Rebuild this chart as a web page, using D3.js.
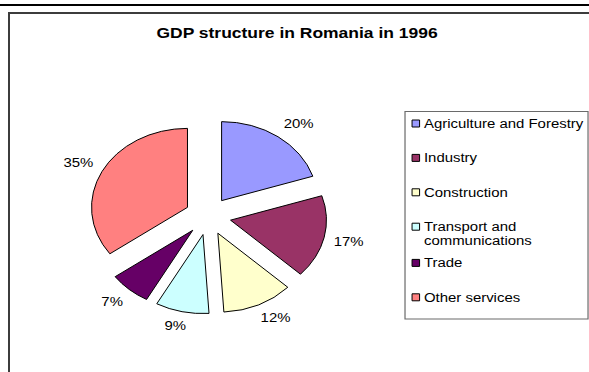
<!DOCTYPE html>
<html>
<head>
<meta charset="utf-8">
<script src="https://cdn.jsdelivr.net/npm/d3@7"></script>
<style>
  html, body { margin: 0; padding: 0; background: #fff; }
  svg { display: block; }
  text { font-family: "Liberation Sans", Arial, sans-serif; fill: #000; }
</style>
</head>
<body>
<script>
// GDP structure of Romania, 1996 (share of total, %)
const categories = [
  "Agriculture and Forestry",
  "Industry",
  "Construction",
  "Transport and communications",
  "Trade",
  "Other services"
];
const shares = [20, 17, 12, 9, 7, 35];
const sliceColors = ["#9999FF", "#993366", "#FFFFCC", "#CCFFFF", "#660066", "#FF8080"];
const chartTitle = "GDP structure in Romania in 1996";

const W = 589, H = 372;
// the chart is laid out on a narrower canvas and stretched horizontally
const baseW = 485;
const sx = W / baseW;
const bodyFont = 12.3;

const svg = d3.select("body").append("svg")
  .attr("width", W).attr("height", H);

// page rule and chart frame (drawn in screen pixels)
svg.append("rect").attr("x", 0).attr("y", 4).attr("width", W).attr("height", 2).attr("fill", "#000");
svg.append("path")
  .attr("d", `M9,${H} V13 H${W}`)
  .attr("fill", "none").attr("stroke", "#3c3c3c").attr("stroke-width", 2);

const g = svg.append("g").attr("transform", `scale(${sx},1)`);

// title
g.append("text")
  .attr("x", 244.6).attr("y", 38)
  .attr("text-anchor", "middle")
  .attr("font-size", 14.4).attr("font-weight", "bold")
  .text(chartTitle);

// pie
const data = categories.map((c, i) => ({ name: c, value: shares[i], color: sliceColors[i] }));
const cx = 171.3, cy = 216, radius = 79, explode = 19, labelRadius = 106;

const pie = d3.pie().sort(null).value(d => d.value).startAngle(0).endAngle(2 * Math.PI);
const arc = d3.arc().innerRadius(0).outerRadius(radius);
const arcs = pie(data);
const mid = d => (d.startAngle + d.endAngle) / 2;

const pg = g.append("g").attr("transform", `translate(${cx},${cy})`);

pg.selectAll("path.slice")
  .data(arcs)
  .join("path")
  .attr("class", "slice")
  .attr("d", arc)
  .attr("transform", d => `translate(${Math.sin(mid(d)) * explode},${-Math.cos(mid(d)) * explode})`)
  .attr("fill", d => d.data.color)
  .attr("stroke", "#000")
  .attr("stroke-width", 1)
  .attr("stroke-linejoin", "round")
  .attr("vector-effect", "non-scaling-stroke");

// percentage labels: the label box's inner corner sits on a circle around the pie
const clampUnit = v => Math.max(-1, Math.min(1, v * 2));
pg.selectAll("text.pct")
  .data(arcs)
  .join("text")
  .attr("class", "pct")
  .attr("text-anchor", "middle")
  .attr("dy", "0.35em")
  .attr("font-size", bodyFont)
  .text(d => d.data.value + "%")
  .each(function(d) {
    const a = mid(d);
    const w = this.getComputedTextLength();
    const h = bodyFont;
    const x = Math.sin(a) * labelRadius + clampUnit(Math.sin(a)) * w / 2;
    const y = -Math.cos(a) * labelRadius - clampUnit(Math.cos(a)) * h / 2;
    d3.select(this).attr("x", x).attr("y", y);
  });

// legend
const lgX = 333.5, lgY = 111.5, lgW = 150.7, lgH = 207.5;
const lg = g.append("g");
lg.append("rect")
  .attr("x", lgX).attr("y", lgY).attr("width", lgW).attr("height", lgH)
  .attr("fill", "#fff").attr("stroke", "#6a6a6a").attr("stroke-width", 1.2)
  .attr("vector-effect", "non-scaling-stroke");

const swX = lgX + 5.8, swW = 6.2, swH = 7;
const txtX = lgX + 15.6;
const maxTextW = lgX + lgW - txtX - 1;
const lineH = 14;
let rowY = 123.5;

data.forEach((d, i) => {
  const item = lg.append("g");
  item.append("rect")
    .attr("x", swX).attr("y", rowY - swH / 2).attr("width", swW).attr("height", swH)
    .attr("fill", d.color).attr("stroke", "#000").attr("stroke-width", 1)
    .attr("vector-effect", "non-scaling-stroke");

  const t = item.append("text")
    .attr("x", txtX).attr("y", rowY).attr("dy", "0.35em")
    .attr("font-size", bodyFont);

  // word wrap entries that do not fit inside the legend box
  const words = d.name.split(" ");
  let line = [], lineNo = 0;
  let tspan = t.append("tspan").attr("x", txtX);
  words.forEach(w => {
    line.push(w);
    tspan.text(line.join(" "));
    if (tspan.node().getComputedTextLength() > maxTextW && line.length > 1) {
      line.pop();
      tspan.text(line.join(" "));
      line = [w];
      lineNo++;
      tspan = t.append("tspan").attr("x", txtX).attr("dy", lineH).text(w);
    }
  });
  rowY += 34.4 + (lineNo > 0 ? 1.8 : 0);
});
</script>
</body>
</html>
